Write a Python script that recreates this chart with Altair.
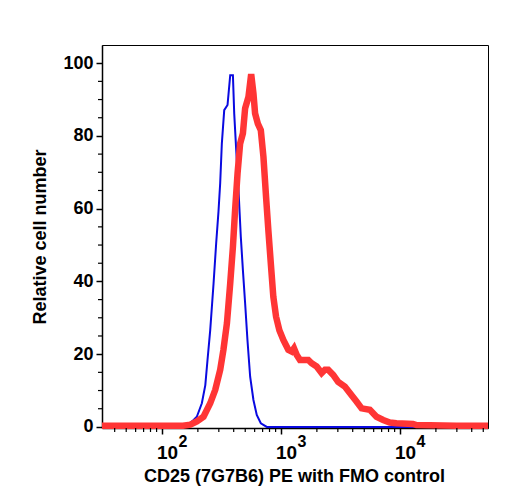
import altair as alt
import pandas as pd

# Blue: FMO control (thin line)
blue_x = [31.3, 142, 162, 184, 196, 216, 231, 241, 254, 271, 285, 298, 308, 318, 333,
          355, 374, 394, 404, 420, 439, 459, 478, 499, 522, 550, 586, 625, 676, 759, 54800]
blue_y = [0, 0, 0.3, 1.9, 2.8, 6.5, 11.5, 18.4, 26.6, 39.5, 50.5, 59.2, 67, 77.9, 87.1,
          88.5, 96.7, 96.7, 86.2, 76.1, 65.1, 52.3, 43.1, 34, 23.9, 13.8, 7.4, 3.3, 1, 0, 0]

# Red: CD25 (7G7B6) PE (thick line)
red_x = [31.3, 150, 173, 196, 223, 254, 280, 308, 328, 351, 374, 394, 411, 431, 453, 478,
         499, 532, 561, 586, 605, 638, 676, 711, 748, 782, 820, 861, 908, 968, 1045, 1151,
         1230, 1285, 1355, 1442, 1589, 1694, 1807, 1991, 2193, 2339, 2489, 2742, 3020, 3436,
         3784, 4305, 4753, 5572, 6339, 7211, 8204, 9333, 12850, 13710, 29720, 54800]
red_y = [0.3, 0.3, 0.6, 1.5, 2.8, 6.5, 10.2, 15.7, 21.2, 28.5, 39.5, 49.5, 59.6, 69.7, 77.9, 80.7,
         87.6, 90.7, 97.0, 91.7, 86.2, 83.4, 81.6, 74.3, 63.3, 54.1, 45, 35.8, 30.3, 26.6, 23.9, 21.2,
         20.7, 21.6, 19.8, 18.4, 18.4, 18.4, 17.5, 16.6, 14.8, 15.7, 15.7, 14.3, 12.4, 11.1,
         9.3, 7, 5.1, 4.7, 2.8, 1.9, 1.2, 1.0, 0.8, 0.5, 0.3, 0.3]

x_major = [100, 1000, 10000]
x_exp = ["2", "3", "4"]
x_minor = [40, 50, 60, 70, 80, 90, 200, 300, 400, 500, 600, 700, 800, 900,
           2000, 3000, 4000, 5000, 6000, 7000, 8000, 9000, 20000, 30000, 40000, 50000]
y_major = [0, 20, 40, 60, 80, 100]
y_minor = [5, 10, 15, 25, 30, 35, 45, 50, 55, 65, 70, 75, 85, 90, 95]

W, H = 386, 383
FONT = "Liberation Sans"

xscale = alt.Scale(type="log", domain=[31.3, 54800], nice=False)
yscale = alt.Scale(domain=[-0.3, 105], nice=False, zero=False)

blue_df = pd.DataFrame({"x": blue_x, "y": blue_y, "o": range(len(blue_x))})
red_df = pd.DataFrame({"x": red_x, "y": red_y, "o": range(len(red_x))})

xaxis = alt.Axis(values=x_major, labelExpr="'10'", grid=False, tickSize=6, tickWidth=1.5,
                 tickColor="black", domainColor="black", domainWidth=1.5,
                 labelFont=FONT, labelFontSize=19, labelFontWeight="bold", labelColor="black",
                 labelAlign="center", labelOffset=5, labelPadding=9,
                 title="CD25 (7G7B6) PE with FMO control", titleFont=FONT, titleFontSize=18,
                 titleFontWeight="bold", titleColor="black", titleX=W / 2 - 1, titleY=53,
                 titleBaseline="alphabetic", titleAlign="center")
yaxis = alt.Axis(values=y_major, grid=False, tickSize=6, tickWidth=1.5, tickColor="black",
                 domainColor="black", domainWidth=1.5,
                 labelFont=FONT, labelFontSize=18, labelFontWeight="bold", labelColor="black",
                 labelPadding=3,
                 title="Relative cell number", titleFont=FONT, titleFontSize=18,
                 titleFontWeight="bold", titleColor="black", titleX=-56.5, titleY=H / 2,
                 titleBaseline="alphabetic", titleAlign="center", titleAngle=270)

blue = alt.Chart(blue_df).mark_line(color="#0a0ae0", strokeWidth=2).encode(
    x=alt.X("x:Q", scale=xscale, axis=xaxis),
    y=alt.Y("y:Q", scale=yscale, axis=yaxis),
    order="o:Q",
)
red = alt.Chart(red_df).mark_line(color="#ff3535", strokeWidth=6.5, strokeJoin="miter",
                                  strokeMiterLimit=3).encode(
    x=alt.X("x:Q", scale=xscale),
    y=alt.Y("y:Q", scale=yscale),
    order="o:Q",
)

xminor = alt.Chart(pd.DataFrame({"x": x_minor})).mark_rule(color="black", strokeWidth=1.2).encode(
    x=alt.X("x:Q", scale=xscale),
    y=alt.value(H),
    y2=alt.value(H + 4),
)
yminor = alt.Chart(pd.DataFrame({"y": y_minor})).mark_rule(color="black", strokeWidth=1.2).encode(
    y=alt.Y("y:Q", scale=yscale),
    x=alt.value(-4),
    x2=alt.value(0),
)
exps = alt.Chart(pd.DataFrame({"x": x_major, "t": x_exp})).mark_text(
    font=FONT, fontSize=16, fontWeight="bold", color="black", align="center",
    baseline="alphabetic", dx=21,
).encode(
    x=alt.X("x:Q", scale=xscale),
    y=alt.value(H + 19),
    text="t:N",
)

chart = alt.layer(blue, red, xminor, yminor, exps).properties(
    width=W, height=H,
    autosize=alt.AutoSizeParams(type="none"),
    padding={"left": 102, "top": 45, "right": 20, "bottom": 72},
).configure_view(stroke="black", strokeWidth=1)

chart.save("out.html", embed_options={"renderer": "svg", "actions": False})
